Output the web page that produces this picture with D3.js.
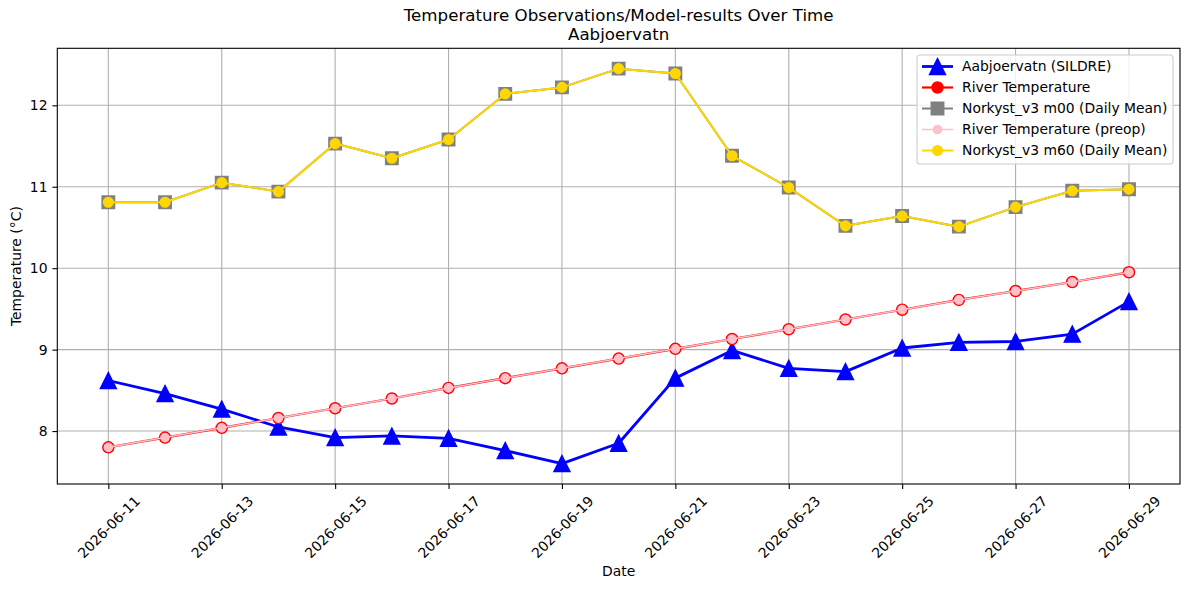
<!DOCTYPE html>
<html>
<head>
<meta charset="utf-8">
<script src="https://cdn.jsdelivr.net/npm/d3@7"></script>
<style>
  body { margin: 0; background: #fff; }
  svg { display: block; font-family: "DejaVu Sans", sans-serif; }
</style>
</head>
<body>
<div id="chart"></div>
<script>
// dates (one per day)
const dates = ["2026-06-11","2026-06-12","2026-06-13","2026-06-14","2026-06-15","2026-06-16","2026-06-17",
  "2026-06-18","2026-06-19","2026-06-20","2026-06-21","2026-06-22","2026-06-23","2026-06-24",
  "2026-06-25","2026-06-26","2026-06-27","2026-06-28","2026-06-29"];

// observations
const sildre = [8.62, 8.46, 8.27, 8.05, 7.92, 7.94, 7.91, 7.76, 7.60, 7.85, 8.65, 8.99, 8.77, 8.73, 9.02, 9.09, 9.10, 9.19, 9.59];
// river temperature (and preop, identical)
const riverTemp = [7.80, 7.92, 8.04, 8.16, 8.28, 8.40, 8.53, 8.65, 8.77, 8.89, 9.01, 9.13, 9.25, 9.37, 9.49, 9.61, 9.72, 9.83, 9.95];
const riverPreop = [7.80, 7.92, 8.04, 8.16, 8.28, 8.40, 8.53, 8.65, 8.77, 8.89, 9.01, 9.13, 9.25, 9.37, 9.49, 9.61, 9.72, 9.83, 9.95];
// model daily means
const norkystM00 = [10.81, 10.81, 11.05, 10.94, 11.53, 11.35, 11.58, 12.14, 12.22, 12.45, 12.39, 11.38, 10.99, 10.52, 10.64, 10.51, 10.75, 10.95, 10.97];
const norkystM60 = [10.81, 10.81, 11.05, 10.94, 11.53, 11.35, 11.58, 12.14, 12.22, 12.45, 12.39, 11.38, 10.99, 10.52, 10.64, 10.51, 10.75, 10.95, 10.97];

const yTicks = [8, 9, 10, 11, 12];
const xTickDates = ["2026-06-11","2026-06-13","2026-06-15","2026-06-17","2026-06-19","2026-06-21",
  "2026-06-23","2026-06-25","2026-06-27","2026-06-29"];

const svgWidth = 1189, svgHeight = 590;
const margin = { top: 48.3, right: 9, bottom: 106, left: 57.3 };
const width = svgWidth - margin.left - margin.right;
const height = svgHeight - margin.top - margin.bottom;

const parse = d3.utcParse("%Y-%m-%d");
const X = dates.map(parse);
const DAY = 864e5;

const xScale = d3.scaleUtc()
  .domain([new Date(X[0].getTime() - 0.9 * DAY), new Date(X[X.length - 1].getTime() + 0.9 * DAY)])
  .range([0, width]);
const yScale = d3.scaleLinear().domain([7.35, 12.70]).range([height, 0]);

const svg = d3.select("#chart").append("svg")
  .attr("width", svgWidth).attr("height", svgHeight);

const g = svg.append("g").attr("transform", `translate(${margin.left},${margin.top})`);

// grid
g.append("g").selectAll("line").data(xTickDates.map(parse)).enter().append("line")
  .attr("x1", d => xScale(d)).attr("x2", d => xScale(d))
  .attr("y1", 0).attr("y2", height)
  .attr("stroke", "#b0b0b0").attr("stroke-width", 1.1);
g.append("g").selectAll("line").data(yTicks).enter().append("line")
  .attr("y1", d => yScale(d)).attr("y2", d => yScale(d))
  .attr("x1", 0).attr("x2", width)
  .attr("stroke", "#b0b0b0").attr("stroke-width", 1.1);

// axes
const xAxis = d3.axisBottom(xScale).tickValues(xTickDates.map(parse))
  .tickFormat(d3.utcFormat("%Y-%m-%d")).tickSizeInner(4.9).tickSizeOuter(0).tickPadding(4.9);
const yAxis = d3.axisLeft(yScale).tickValues(yTicks).tickFormat(d3.format("d"))
  .tickSizeInner(4.9).tickSizeOuter(0).tickPadding(4.9);

const gx = g.append("g").attr("transform", `translate(0,${height})`).call(xAxis);
gx.select(".domain").remove();
gx.selectAll("line").attr("stroke", "#000").attr("stroke-width", 1.1);
gx.selectAll("text")
  .attr("font-size", "13.9px").attr("font-family", "DejaVu Sans").attr("fill", "#000")
  .attr("y", 0).attr("dy", null)
  .attr("text-anchor", "middle")
  .attr("dominant-baseline", "central")
  .attr("transform", "translate(0,43) rotate(-45)");

const gy = g.append("g").call(yAxis);
gy.select(".domain").remove();
gy.selectAll("line").attr("stroke", "#000").attr("stroke-width", 1.1);
gy.selectAll("text").attr("font-size", "13.9px").attr("font-family", "DejaVu Sans").attr("fill", "#000");

// frame
g.append("rect").attr("x", 0).attr("y", 0).attr("width", width).attr("height", height)
  .attr("fill", "none").attr("stroke", "#000").attr("stroke-width", 1.1);

// series
const series = [
  { name: "Aabjoervatn (SILDRE)", values: sildre, color: "blue", lw: 2.8, marker: "triangle", size: 16, fill: "blue", edge: "blue" },
  { name: "River Temperature", values: riverTemp, color: "red", lw: 2.2, marker: "circle", size: 11.1, fill: "red", edge: "red" },
  { name: "Norkyst_v3 m00 (Daily Mean)", values: norkystM00, color: "gray", lw: 2.0, marker: "square", size: 12.5, fill: "gray", edge: "gray" },
  { name: "River Temperature (preop)", values: riverPreop, color: "pink", lw: 1.5, marker: "circle", size: 8.3, fill: "pink", edge: "pink" },
  { name: "Norkyst_v3 m60 (Daily Mean)", values: norkystM60, color: "#FFD700", lw: 2.0, marker: "circle", size: 9.7, fill: "#FFD700", edge: "#FFD700" }
];

function markerPath(type, s) {
  const h = s / 2;
  if (type === "triangle") return `M0,${-h}L${-h},${h}L${h},${h}Z`;
  if (type === "square") return `M${-h},${-h}H${h}V${h}H${-h}Z`;
  return d3.arc()({ innerRadius: 0, outerRadius: h, startAngle: 0, endAngle: 2 * Math.PI });
}

const line = d3.line().x((d, i) => xScale(X[i])).y(d => yScale(d));

series.forEach(s => {
  g.append("path").datum(s.values)
    .attr("d", line)
    .attr("fill", "none").attr("stroke", s.color).attr("stroke-width", s.lw)
    .attr("stroke-linejoin", "round").attr("stroke-linecap", "square");
  g.append("g").selectAll("path").data(s.values).enter().append("path")
    .attr("transform", (d, i) => `translate(${xScale(X[i])},${yScale(d)})`)
    .attr("d", markerPath(s.marker, s.size))
    .attr("fill", s.fill).attr("stroke", s.edge).attr("stroke-width", 1.4);
});

// labels
svg.append("text").attr("x", margin.left + width / 2).attr("y", 576)
  .attr("text-anchor", "middle").attr("font-size", "13.9px").text("Date");
svg.append("text").attr("transform", `translate(21,${margin.top + height / 2}) rotate(-90)`)
  .attr("text-anchor", "middle").attr("font-size", "13.9px").text("Temperature (°C)");

// title, two lines
svg.append("text").attr("x", margin.left + width / 2).attr("y", 20.5)
  .attr("text-anchor", "middle").attr("font-size", "16.67px")
  .text("Temperature Observations/Model-results Over Time");
svg.append("text").attr("x", margin.left + width / 2).attr("y", 39.5)
  .attr("text-anchor", "middle").attr("font-size", "16.67px")
  .text("Aabjoervatn");

// legend
const lg = svg.append("g").attr("transform", "translate(917,55)");
lg.append("rect").attr("width", 256).attr("height", 109).attr("rx", 3)
  .attr("fill", "#fff").attr("fill-opacity", 0.8).attr("stroke", "#cccccc").attr("stroke-width", 1.1);
series.forEach((s, i) => {
  const y = 11.5 + i * 21;
  lg.append("line").attr("x1", 5).attr("x2", 36).attr("y1", y).attr("y2", y)
    .attr("stroke", s.color).attr("stroke-width", s.lw);
  lg.append("path").attr("transform", `translate(20.5,${y})`)
    .attr("d", markerPath(s.marker, s.size))
    .attr("fill", s.fill).attr("stroke", s.edge).attr("stroke-width", 1.4);
  lg.append("text").attr("x", 45).attr("y", y).attr("dy", "0.35em")
    .attr("font-size", "13.9px").text(s.name);
});
</script>
</body>
</html>
